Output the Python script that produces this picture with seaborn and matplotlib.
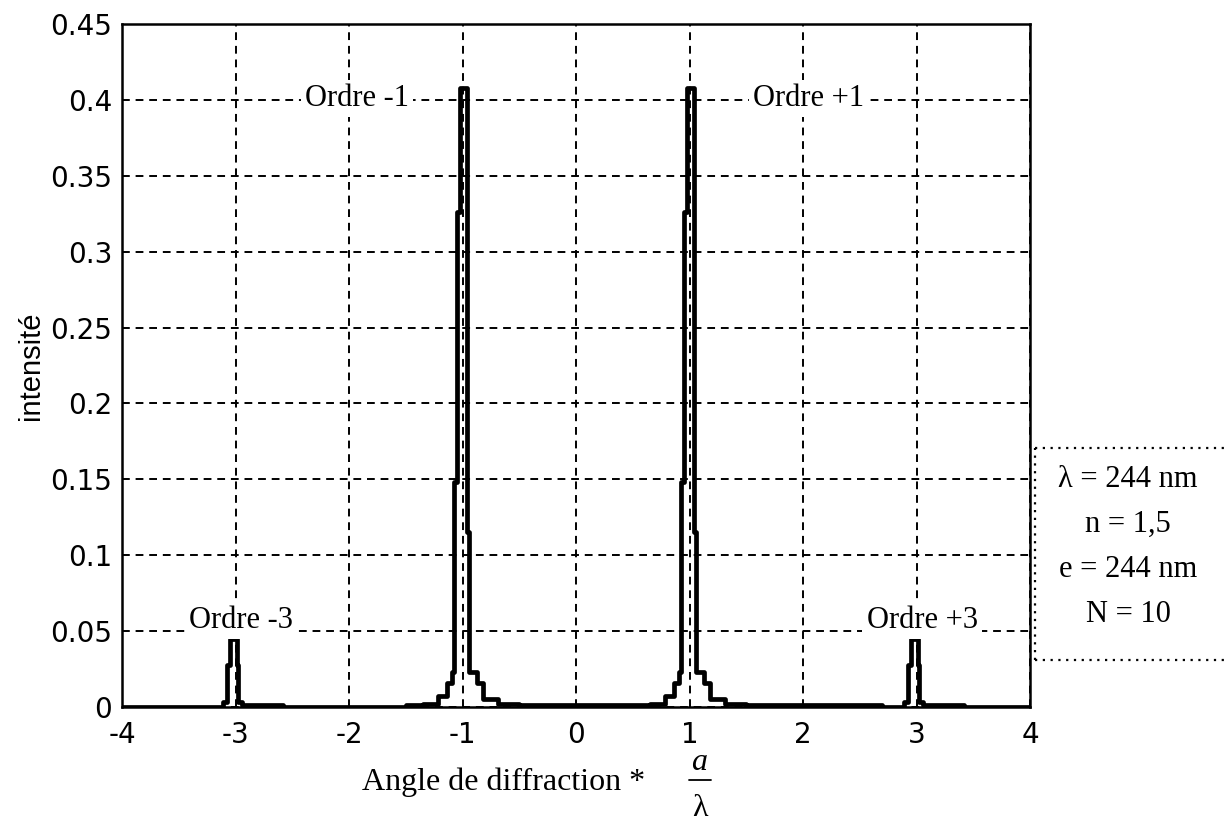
import numpy as np
import pandas as pd
import matplotlib
matplotlib.use("Agg")
import matplotlib.pyplot as plt
from matplotlib.lines import Line2D
import seaborn as sns

# peak positions (angle * a / lambda)
main_centres = [-1, 1]
side_centres = [-3, 3]

# step profile of the order +/-1 peaks: left edges (offset from centre) and level
main_offsets = [-0.50, -0.35, -0.22, -0.14, -0.09, -0.075, -0.05, -0.02, 0.04, 0.057, 0.13, 0.18, 0.31, 0.50]
main_levels = [0.0012, 0.002, 0.007, 0.016, 0.023, 0.148, 0.326, 0.408, 0.115, 0.023, 0.016, 0.005, 0.002, 0.0012]

# step profile of the order +/-3 peaks
side_offsets = [-0.30, -0.11, -0.075, -0.05, 0.013, 0.022, 0.057, 0.42]
side_levels = [0.0, 0.003, 0.028, 0.045, 0.028, 0.003, 0.001, 0.0]

# level of the faint background between the +/-1 orders
centre_level = 0.0015

xticks = [-4, -3, -2, -1, 0, 1, 2, 3, 4]
xtick_labels = ["-4", "-3", "-2", "-1", "0", "1", "2", "3", "4"]
yticks = [0, 0.05, 0.1, 0.15, 0.2, 0.25, 0.3, 0.35, 0.4, 0.45]
ytick_labels = ["0", "0.05", "0.1", "0.15", "0.2", "0.25", "0.3", "0.35", "0.4", "0.45"]

orders = ["Ordre -3", "Ordre -1", "Ordre +1", "Ordre +3"]
order_x = [-2.95, -1.93, 2.05, 3.05]
order_y = [0.057, 0.401, 0.401, 0.057]

params = "\u03bb = 244 nm\nn = 1,5\ne = 244 nm\nN = 10"

# build the stepped curve from left to right
xs = [-4.0]
ys = [0.0]
xs += [side_centres[0] + o for o in side_offsets]
ys += side_levels
xs += [main_centres[0] + o for o in main_offsets]
ys += main_levels
xs += [main_centres[0] + 0.5 + 0.001]
ys += [centre_level]
xs += [main_centres[1] + o for o in main_offsets]
ys += main_levels
xs += [side_centres[1] + o for o in side_offsets]
ys += side_levels
xs += [4.0]
ys += [0.0]
df = pd.DataFrame({"angle": xs, "intensite": ys})

sns.set_theme(style="white")
plt.rcParams["font.family"] = ["DejaVu Sans"]
plt.rcParams["text.color"] = "black"
plt.rcParams["axes.labelcolor"] = "black"

fig = plt.figure(figsize=(12.24, 8.31), dpi=100)
ax = fig.add_axes([0.0997, 0.1492, 0.7418, 0.8219])

sns.lineplot(data=df, x="angle", y="intensite", ax=ax, color="black", lw=3.4,
             drawstyle="steps-post", sort=False, estimator=None)

ax.set_xlim(-4, 4)
ax.set_ylim(0, 0.45)
ax.set_xticks(xticks)
ax.set_xticklabels(xtick_labels, fontsize=20, color="black")
ax.set_yticks(yticks)
ax.set_yticklabels(ytick_labels, fontsize=20, color="black")
ax.tick_params(axis="x", direction="in", length=5, width=1.5, pad=10, colors="black")
ax.tick_params(axis="y", direction="in", length=5, width=1.5, pad=7, colors="black")
ax.grid(True, color="black", linestyle=(0, (4, 3)), lw=1.4)
ax.set_axisbelow(True)
for s in ax.spines.values():
    s.set_color("black")
    s.set_linewidth(1.8)

ax.set_xlabel("")
ax.set_ylabel("intensit\u00e9", fontsize=21, family=["Liberation Sans"], labelpad=4, color="black")

for lab, x, y in zip(orders, order_x, order_y):
    ax.text(x, y, lab, fontsize=22, family=["Liberation Serif"], ha="center", va="center",
            color="black", bbox=dict(fc="white", ec="none", pad=3))

# x label with a stacked a / lambda fraction
serif = ["Liberation Serif"]
fig.text(0.2958, 0.049, "Angle de diffraction *", fontsize=23, family=serif,
         ha="left", va="baseline", color="black")
fig.text(0.5715, 0.0735, "a", fontsize=23, family=serif, style="italic",
         ha="center", va="baseline", color="black")
fig.add_artist(Line2D([0.5630, 0.5810], [0.0610, 0.0610], color="black", lw=1.3,
                      transform=fig.transFigure))
fig.text(0.5715, 0.018, "\u03bb", fontsize=23, family=serif,
         ha="center", va="baseline", color="black")

# parameter box (dotted frame running off the right edge)
box_l, box_b, box_t = 0.8456, 0.2058, 0.4609
dot = dict(color="black", lw=1.6, linestyle=(0, (1, 2.5)), transform=fig.transFigure)
fig.add_artist(Line2D([box_l, 1.0], [box_t, box_t], **dot))
fig.add_artist(Line2D([box_l, 1.0], [box_b, box_b], **dot))
fig.add_artist(Line2D([box_l, box_l], [box_b, box_t], **dot))
fig.text(0.9216, 0.342, params, fontsize=22, family=serif, ha="center", va="center",
         linespacing=1.72, multialignment="center", color="black")

fig.savefig("out.png", dpi=100)
